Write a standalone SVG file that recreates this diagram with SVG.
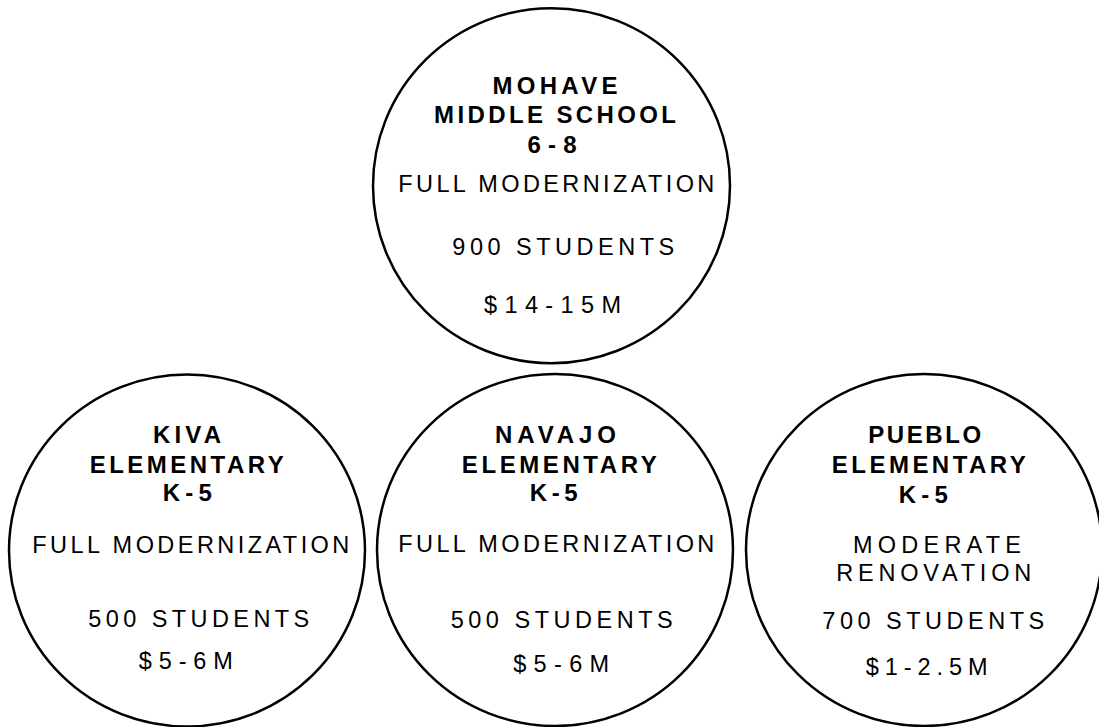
<svg xmlns="http://www.w3.org/2000/svg" width="1099" height="727" viewBox="0 0 1099 727">
<style>
.c{fill:#fff;stroke:#000;stroke-width:2.5}
text{font-family:"Liberation Sans",Arial,sans-serif;fill:#000;text-anchor:middle}
.b{font-weight:bold;font-size:24px}
.r{font-size:23.5px}
</style>
<rect width="1099" height="727" fill="#fff"/>
<g id="connectors"/>
<g id="mohave">
<ellipse class="c" cx="551.5" cy="185.7" rx="178.5" ry="177.5"/>
<text class="b" x="555" y="94" textLength="125" lengthAdjust="spacing">MOHAVE</text>
<text class="b" x="555" y="123" textLength="242" lengthAdjust="spacing">MIDDLE SCHOOL</text>
<text class="b" x="552" y="153" textLength="49" lengthAdjust="spacing">6-8</text>
<text class="r" x="556.3" y="192" textLength="316" lengthAdjust="spacing">FULL MODERNIZATION</text>
<text class="r" x="563.3" y="255" textLength="222" lengthAdjust="spacing">900 STUDENTS</text>
<text class="r" x="552.5" y="313" textLength="137" lengthAdjust="spacing">$14-15M</text>
</g>
<g id="kiva">
<ellipse class="c" cx="187" cy="550.5" rx="178" ry="176"/>
<text class="b" x="187" y="443" textLength="68" lengthAdjust="spacing">KIVA</text>
<text class="b" x="186.7" y="473" textLength="194" lengthAdjust="spacing">ELEMENTARY</text>
<text class="b" x="187.3" y="501" textLength="49" lengthAdjust="spacing">K-5</text>
<text class="r" x="190.8" y="553" textLength="317" lengthAdjust="spacing">FULL MODERNIZATION</text>
<text class="r" x="198.8" y="627" textLength="221" lengthAdjust="spacing">500 STUDENTS</text>
<text class="r" x="185.8" y="669" textLength="94" lengthAdjust="spacing">$5-6M</text>
</g>
<g id="navajo">
<ellipse class="c" cx="555" cy="550" rx="178" ry="176"/>
<text class="b" x="555.5" y="443" textLength="121" lengthAdjust="spacing">NAVAJO</text>
<text class="b" x="559.3" y="473" textLength="195" lengthAdjust="spacing">ELEMENTARY</text>
<text class="b" x="553.7" y="501" textLength="48" lengthAdjust="spacing">K-5</text>
<text class="r" x="556.3" y="552" textLength="316" lengthAdjust="spacing">FULL MODERNIZATION</text>
<text class="r" x="561.7" y="628" textLength="222" lengthAdjust="spacing">500 STUDENTS</text>
<text class="r" x="561.2" y="672" textLength="96" lengthAdjust="spacing">$5-6M</text>
</g>
<g id="pueblo">
<ellipse class="c" cx="924" cy="550" rx="178" ry="176"/>
<text class="b" x="924.7" y="443" textLength="113" lengthAdjust="spacing">PUEBLO</text>
<text class="b" x="928.8" y="473" textLength="194" lengthAdjust="spacing">ELEMENTARY</text>
<text class="b" x="923.3" y="503" textLength="49" lengthAdjust="spacing">K-5</text>
<text class="r" x="937" y="553" textLength="168" lengthAdjust="spacing">MODERATE</text>
<text class="r" x="933.7" y="581" textLength="195" lengthAdjust="spacing">RENOVATION</text>
<text class="r" x="933.3" y="629" textLength="222" lengthAdjust="spacing">700 STUDENTS</text>
<text class="r" x="926.7" y="675" textLength="122" lengthAdjust="spacing">$1-2.5M</text>
</g>
</svg>
